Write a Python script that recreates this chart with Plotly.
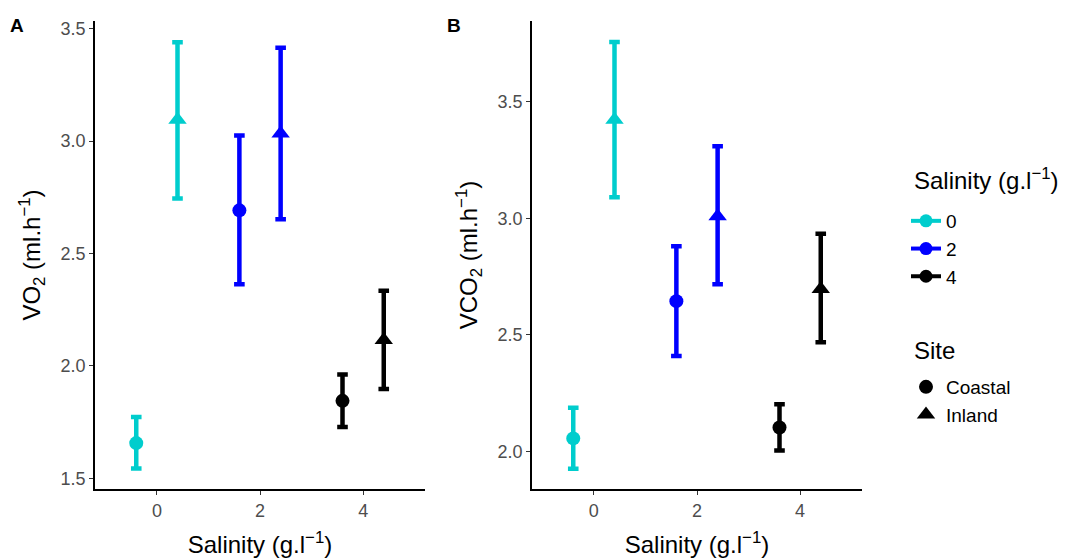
import plotly.graph_objects as go

# ---- data ----
salinity = [0, 2, 4]
sites = ["Coastal", "Inland"]
sal_colors = ["#00CDCD", "#0000FF", "#000000"]
site_symbols = ["circle", "triangle-up"]
dodge = [-0.4, 0.4]

# panel A: VO2 mean, lower, upper  (rows: salinity, cols: site)
vo2_mean = [[1.657, 3.095], [2.692, 3.034], [1.845, 2.115]]
vo2_low = [[1.544, 2.745], [2.363, 2.652], [1.729, 1.898]]
vo2_high = [[1.773, 3.440], [3.025, 3.415], [1.962, 2.334]]

# panel B: VCO2
vco2_mean = [[2.056, 3.423], [2.645, 3.009], [2.103, 2.697]]
vco2_low = [[1.926, 3.091], [2.410, 2.717], [2.004, 2.469]]
vco2_high = [[2.188, 3.757], [2.881, 3.310], [2.203, 2.934]]

x_ticks = [0, 2, 4]

FONT = "Liberation Sans, Arial, sans-serif"
fig = go.Figure()

panels = [("x", "y", vo2_mean, vo2_low, vo2_high), ("x2", "y2", vco2_mean, vco2_low, vco2_high)]
for xa, ya, mean, low, high in panels:
    for i, s in enumerate(salinity):
        for j, site in enumerate(sites):
            m = mean[i][j]
            fig.add_trace(go.Scatter(
                x=[s + dodge[j]], y=[m], xaxis=xa, yaxis=ya,
                mode="markers",
                marker=dict(symbol=site_symbols[j], size=14 if j == 0 else 16, color=sal_colors[i]),
                error_y=dict(type="data", symmetric=False,
                             array=[high[i][j] - m], arrayminus=[m - low[i][j]],
                             color=sal_colors[i], thickness=4.5, width=5.3),
                showlegend=False, hoverinfo="skip",
            ))

# legend entries
for i, s in enumerate(salinity):
    fig.add_trace(go.Scatter(
        x=[None], y=[None], mode="lines+markers", name=str(s),
        line=dict(color=sal_colors[i], width=4),
        marker=dict(symbol="circle", size=13, color=sal_colors[i]),
        legend="legend",
    ))
for j, site in enumerate(sites):
    fig.add_trace(go.Scatter(
        x=[None], y=[None], mode="markers", name=site,
        marker=dict(symbol=site_symbols[j], size=14 if j == 0 else 16, color="black"),
        legend="legend2",
    ))

axis_common = dict(
    showline=True, linecolor="black", linewidth=1.8,
    ticks="outside", ticklen=4, tickwidth=1.3, tickcolor="#333333",
    showgrid=False, zeroline=False, automargin=False,
    tickfont=dict(family=FONT, size=18, color="#4D4D4D"),
)

L, R, T, B = 95, 204, 21, 69
W, H = 1066, 558
pw, ph = W - L - R, H - T - B


def px2paper(px, py):
    return (px - L) / pw, (H - B - py) / ph


TITLE_FONT = dict(family=FONT, size=24, color="black")
xt = dict(text="Salinity (g.l<sup>−1</sup>)", font=TITLE_FONT, standoff=19)

annots = []
for txt, (px, py), anchor in [
    ("<b>A</b>", (16.5, 26), "center"),
    ("<b>B</b>", (454, 26), "center"),
    ("Salinity (g.l<sup>−1</sup>)", (912, 179), "left"),
    ("Site", (912, 351), "left"),
]:
    ax, ay = px2paper(px, py)
    is_label = txt.startswith("<b>")
    annots.append(dict(text=txt, x=ax, y=ay, xref="paper", yref="paper", showarrow=False,
                       xanchor=anchor, yanchor="middle",
                       font=dict(family=FONT, size=19 if is_label else 24, color="black")))

leg1_x, leg1_y = px2paper(906, 202)
leg2_x, leg2_y = px2paper(906, 368)

fig.update_layout(
    width=W, height=H,
    paper_bgcolor="white", plot_bgcolor="white",
    margin=dict(l=L, r=R, t=T, b=B, autoexpand=False),
    font=dict(family=FONT, color="black"),
    xaxis=dict(domain=[0, 330 / pw], range=[-1.2, 5.2], tickvals=x_ticks, title=xt, anchor="y", **axis_common),
    xaxis2=dict(domain=[(532 - L) / pw, 1], range=[-1.2, 5.2], tickvals=x_ticks, title=xt, anchor="y2", **axis_common),
    yaxis=dict(domain=[0, 1], range=[1.453, 3.534], tickvals=[1.5, 2.0, 2.5, 3.0, 3.5], tickformat=".1f",
               title=dict(text="VO<sub>2</sub> (ml.h<sup>−1</sup>)", font=TITLE_FONT, standoff=13),
               anchor="x", **axis_common),
    yaxis2=dict(domain=[0, 1], range=[1.839, 3.847], tickvals=[2.0, 2.5, 3.0, 3.5], tickformat=".1f",
                title=dict(text="VCO<sub>2</sub> (ml.h<sup>−1</sup>)", font=TITLE_FONT, standoff=13),
                anchor="x2", **axis_common),
    legend=dict(x=leg1_x, y=leg1_y, xanchor="left", yanchor="top",
                font=dict(family=FONT, size=19), itemwidth=30, bgcolor="rgba(0,0,0,0)"),
    legend2=dict(x=leg2_x, y=leg2_y, xanchor="left", yanchor="top",
                 font=dict(family=FONT, size=19), itemwidth=30, bgcolor="rgba(0,0,0,0)"),
    annotations=annots,
)

fig.write_html("out.html", config={"displayModeBar": False},
               post_script="document.body.style.margin='0';")
